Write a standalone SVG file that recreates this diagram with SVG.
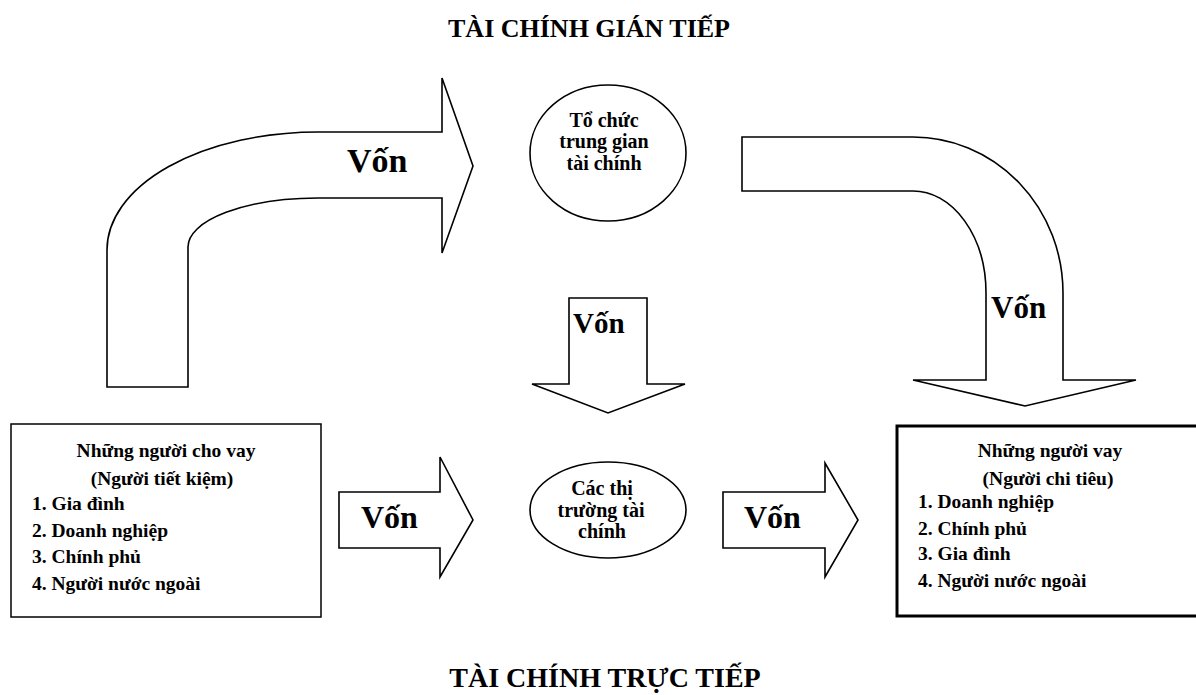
<svg xmlns="http://www.w3.org/2000/svg" width="1196" height="695" viewBox="0 0 1196 695">
<style>
.t{font-family:"Liberation Serif","Times New Roman",serif;font-weight:bold;fill:#000}
.s{fill:#fff;stroke:#000;stroke-width:1.6;stroke-linejoin:miter}
.b{font-size:19.5px}
.v{font-size:32px}
.e{font-size:20px}
</style>
<rect width="1196" height="695" fill="#fff"/>
<text class="t" x="589" y="37" font-size="26" text-anchor="middle">TÀI CHÍNH GIÁN TIẾP</text>
<text class="t" x="605" y="687" font-size="28" text-anchor="middle">TÀI CHÍNH TRỰC TIẾP</text>
<g id="connectors">
<g id="arrow-indirect-in">
<path class="s" d="M107,387 L107,250 A211,118 0 0 1 318,132 L442,132 L442,78 L473,166 L442,253 L442,198 L318,198 A130,49 0 0 0 188,247 L188,387 Z"/>
<text class="t" x="347" y="172" font-size="34">Vốn</text>
</g>
<g id="arrow-indirect-out">
<path class="s" d="M742,137 L913,137 A150,156 0 0 1 1063,293 L1063,380 L1136,380 L1025,406 L913,380 L986,380 L986,293 A73,102 0 0 0 913,191 L742,191 Z"/>
<text class="t" x="991" y="318" font-size="31">Vốn</text>
</g>
<g id="arrow-down">
<path class="s" d="M569,298 L647,298 L647,384 L685,384 L608,413 L532,384 L569,384 Z"/>
<text class="t" x="573" y="333" font-size="29">Vốn</text>
</g>
<g id="arrow-direct-in">
<path class="s" d="M339,492 L440,492 L440,457 L473,520 L440,577 L440,548 L339,548 Z"/>
<text class="t v" x="361" y="528">Vốn</text>
</g>
<g id="arrow-direct-out">
<path class="s" d="M723,492 L825,492 L825,463 L858,520 L825,577 L825,548 L723,548 Z"/>
<text class="t v" x="744" y="528">Vốn</text>
</g>
</g>
<g id="intermediaries">
<ellipse class="s" cx="608" cy="153" rx="78" ry="68"/>
<text class="t e" text-anchor="middle"><tspan x="604" y="127">Tổ chức</tspan><tspan x="604" y="148">trung gian</tspan><tspan x="604" y="170">tài chính</tspan></text>
</g>
<g id="markets">
<ellipse class="s" cx="608" cy="510" rx="78" ry="48"/>
<text class="t e" text-anchor="middle"><tspan x="602" y="495">Các thị</tspan><tspan x="601" y="517">trường tài</tspan><tspan x="602" y="538">chính</tspan></text>
</g>
<g id="lenders">
<rect x="11" y="424" width="310" height="193" fill="#fff" stroke="#000" stroke-width="1.5"/>
<text class="t b"><tspan x="166" y="457" text-anchor="middle">Những người cho vay</tspan><tspan x="162" y="485" text-anchor="middle">(Người tiết kiệm)</tspan><tspan x="32" y="510">1. Gia đình</tspan><tspan x="32" y="537">2. Doanh nghiệp</tspan><tspan x="32" y="563">3. Chính phủ</tspan><tspan x="32" y="590">4. Người nước ngoài</tspan></text>
</g>
<g id="borrowers">
<rect x="897" y="426" width="310" height="190" fill="#fff" stroke="#000" stroke-width="3"/>
<text class="t b"><tspan x="1050" y="457" text-anchor="middle">Những người vay</tspan><tspan x="1048" y="485" text-anchor="middle">(Người chi tiêu)</tspan><tspan x="918" y="508">1. Doanh nghiệp</tspan><tspan x="918" y="535">2. Chính phủ</tspan><tspan x="918" y="560">3. Gia đình</tspan><tspan x="918" y="587">4. Người nước ngoài</tspan></text>
</g>
</svg>
